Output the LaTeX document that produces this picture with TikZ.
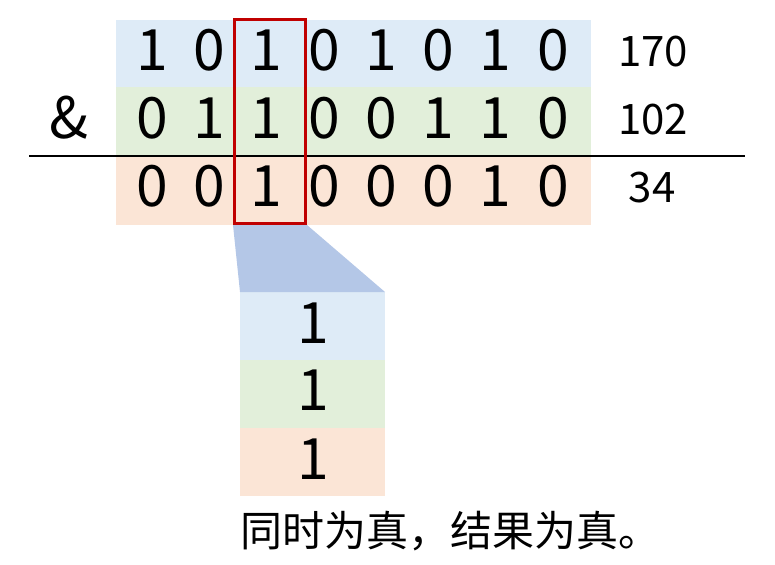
\documentclass[tikz,border=0pt]{standalone}
\usepackage{fontspec}
\setmainfont{Noto Sans CJK SC}
\definecolor{rowblue}{HTML}{DEEBF7}
\definecolor{rowgreen}{HTML}{E2EFDA}
\definecolor{roworange}{HTML}{FBE5D6}
\definecolor{zoomfill}{HTML}{B4C7E7}
\definecolor{selred}{HTML}{C00000}
\begin{document}
\begin{tikzpicture}[x=1pt,y=-1pt,
  rowbox/.style={draw=none, inner sep=0, outer sep=0, minimum width=475pt, minimum height=68pt},
  cellbox/.style={draw=none, inner sep=0, outer sep=0, minimum width=145pt, minimum height=68pt},
  digit/.style={inner sep=0, font=\fontsize{57}{57}\selectfont},
  val/.style={inner sep=0, font=\fontsize{42}{42}\selectfont},
  note/.style={inner sep=0, font=\fontsize{42}{42}\selectfont}]
\useasboundingbox (0,0) rectangle (775,564);
% rows
\node[rowbox, fill=rowblue] (ra) at (353.5,54) {};
\node[rowbox, fill=rowgreen] (rb) at (353.5,121.5) {};
\node[rowbox, fill=roworange] (rc) at (353.5,190.5) {};
% digits
\foreach \d [count=\i from 0] in {1,0,1,0,1,0,1,0}
  \node[digit] (a\i) at ({152+57.3*\i},50) {\d};
\foreach \d [count=\i from 0] in {0,1,1,0,0,1,1,0}
  \node[digit] (b\i) at ({152+57.3*\i},118) {\d};
\foreach \d [count=\i from 0] in {0,0,1,0,0,0,1,0}
  \node[digit] (c\i) at ({152+57.3*\i},186) {\d};
\node[digit] (amp) at (69,118) {\&};
\node[val] (va) at (653,52) {170};
\node[val] (vb) at (653,120) {102};
\node[val] (vc) at (652,188) {34};
% rule
\coordinate (ls) at (29,156);
\coordinate (le) at (745,156);
\draw[line width=2pt] (ls) -- (le);
% lower column
\node[cellbox, fill=rowblue] (la) at (312.5,326) {};
\node[cellbox, fill=rowgreen] (lb) at (312.5,394) {};
\node[cellbox, fill=roworange] (lc) at (312.5,462) {};
\node[digit] (da) at (313,323) {1};
\node[digit] (db) at (313,390) {1};
\node[digit] (dc) at (313,459) {1};
% selection
\node[draw=selred, line width=3pt, inner sep=0, minimum width=71pt, minimum height=204pt] (sel) at (270,121.5) {};
\fill[zoomfill] (sel.south west) -- (sel.south east) -- (la.north east) -- (la.north west) -- cycle;
\node[note] (txt) at (450,531) {同时为真，结果为真。};
\end{tikzpicture}
\end{document}
